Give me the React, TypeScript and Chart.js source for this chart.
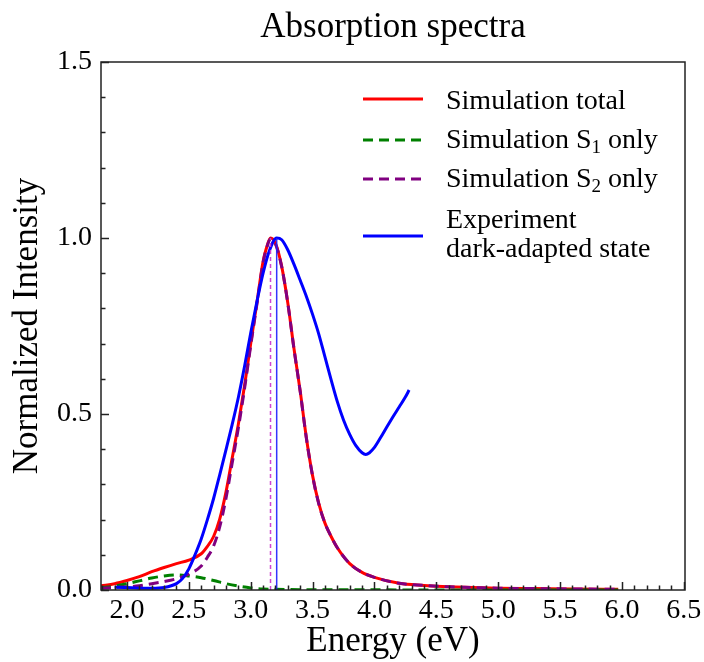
import React, { useEffect, useRef } from 'react';
import { Chart, registerables } from 'chart.js';
Chart.register(...registerables);

// ---- data ----
const totalX = [1.79, 1.9, 2.0, 2.1, 2.2, 2.3, 2.4, 2.5, 2.6, 2.65, 2.7, 2.75, 2.8, 2.85, 2.9, 2.95, 3.0, 3.05, 3.1, 3.13, 3.16, 3.2, 3.25, 3.3, 3.35, 3.4, 3.45, 3.5, 3.55, 3.6, 3.65, 3.7, 3.8, 3.9, 4.0, 4.2, 4.4, 4.6, 4.8, 5.0, 5.3, 5.6, 5.97];
const totalY = [0.012, 0.018, 0.027, 0.038, 0.052, 0.064, 0.075, 0.085, 0.103, 0.124, 0.152, 0.202, 0.278, 0.374, 0.471, 0.58, 0.70, 0.816, 0.933, 0.975, 1.0, 0.985, 0.92, 0.815, 0.685, 0.565, 0.432, 0.325, 0.246, 0.19, 0.152, 0.12, 0.075, 0.05, 0.036, 0.019, 0.013, 0.009, 0.007, 0.005, 0.004, 0.003, 0.002];

const s1X = [1.79, 1.9, 2.0, 2.1, 2.2, 2.3, 2.4, 2.5, 2.6, 2.7, 2.8, 2.9, 3.0, 3.1, 3.2, 3.4, 3.6, 4.0, 4.5, 5.0, 5.5, 5.97];
const s1Y = [0.006, 0.011, 0.018, 0.026, 0.034, 0.04, 0.043, 0.04, 0.035, 0.027, 0.018, 0.011, 0.006, 0.003, 0.002, 0.001, 0.0006, 0.0004, 0.0003, 0.0002, 0.0001, 0.0001];

const s2X = [1.79, 1.9, 2.0, 2.1, 2.2, 2.3, 2.4, 2.5, 2.6, 2.65, 2.7, 2.75, 2.8, 2.85, 2.9, 2.95, 3.0, 3.05, 3.1, 3.13, 3.16, 3.2, 3.25, 3.3, 3.35, 3.4, 3.45, 3.5, 3.55, 3.6, 3.65, 3.7, 3.8, 3.9, 4.0, 4.2, 4.4, 4.6, 4.8, 5.0, 5.3, 5.6, 5.97];
const s2Y = [0.005, 0.007, 0.009, 0.012, 0.018, 0.024, 0.032, 0.045, 0.068, 0.093, 0.125, 0.18, 0.26, 0.36, 0.46, 0.572, 0.694, 0.812, 0.93, 0.973, 0.998, 0.983, 0.919, 0.814, 0.684, 0.564, 0.431, 0.324, 0.245, 0.19, 0.152, 0.12, 0.075, 0.05, 0.036, 0.019, 0.013, 0.009, 0.007, 0.005, 0.004, 0.003, 0.002];

const expX = [1.9, 2.0, 2.1, 2.2, 2.3, 2.4, 2.45, 2.5, 2.55, 2.6, 2.65, 2.7, 2.75, 2.8, 2.85, 2.9, 2.95, 3.0, 3.05, 3.1, 3.15, 3.21, 3.25, 3.3, 3.35, 3.4, 3.45, 3.5, 3.55, 3.6, 3.65, 3.7, 3.75, 3.8, 3.85, 3.9, 3.93, 3.96, 4.0, 4.05, 4.1, 4.15, 4.2, 4.25, 4.28];
const expY = [0.008, 0.007, 0.005, 0.005, 0.007, 0.018, 0.033, 0.06, 0.1, 0.145, 0.2, 0.26, 0.328, 0.398, 0.47, 0.547, 0.635, 0.73, 0.819, 0.9, 0.963, 1.0, 0.995, 0.966, 0.925, 0.88, 0.834, 0.783, 0.727, 0.662, 0.597, 0.535, 0.483, 0.442, 0.41, 0.39, 0.385, 0.39, 0.405, 0.433, 0.463, 0.492, 0.52, 0.548, 0.568];

const peakSimX = [3.16, 3.16];
const peakSimY = [0, 1.0];
const peakExpX = [3.21, 3.21];
const peakExpY = [0, 1.0];

const xTickValues = [2.0, 2.5, 3.0, 3.5, 4.0, 4.5, 5.0, 5.5, 6.0, 6.5];
const yTickValues = [0, 0.5, 1.0, 1.5];
const xMinorValues = [1.8, 1.9, 2.1, 2.2, 2.3, 2.4, 2.6, 2.7, 2.8, 2.9, 3.1, 3.2, 3.3, 3.4, 3.6, 3.7, 3.8, 3.9, 4.1, 4.2, 4.3, 4.4, 4.6, 4.7, 4.8, 4.9, 5.1, 5.2, 5.3, 5.4, 5.6, 5.7, 5.8, 5.9, 6.1, 6.2, 6.3, 6.4];
const yMinorValues = [0.1, 0.2, 0.3, 0.4, 0.6, 0.7, 0.8, 0.9, 1.1, 1.2, 1.3, 1.4];

const titleText = 'Absorption spectra';
const xTitle = 'Energy (eV)';
const yTitle = 'Normalized Intensity';

const legendItems = [
  { color: '#ff0000', dash: [] as number[], lines: [[{ t: 'Simulation total' }]] },
  { color: '#008000', dash: [10, 6], lines: [[{ t: 'Simulation S' }, { t: '1', sub: true }, { t: ' only' }]] },
  { color: '#800080', dash: [10, 6], lines: [[{ t: 'Simulation S' }, { t: '2', sub: true }, { t: ' only' }]] },
  { color: '#0000ff', dash: [] as number[], lines: [[{ t: 'Experiment' }], [{ t: 'dark-adapted state' }]] },
];

const zip = (xs: number[], ys: number[]) => xs.map((x, i) => ({ x, y: ys[i] }));

const FONT = '"Liberation Serif", "Times New Roman", serif';

const decorPlugin = {
  id: 'decor',
  afterDatasetsDraw(chart: any) {
    const { ctx, chartArea: a, scales } = chart;
    const xs = scales.x, ys = scales.y;
    ctx.save();
    ctx.strokeStyle = '#222';
    ctx.lineWidth = 1.5;
    ctx.setLineDash([]);
    ctx.beginPath();
    xTickValues.forEach((v) => { const p = Math.round(xs.getPixelForValue(v)) + 0.5; ctx.moveTo(p, a.bottom); ctx.lineTo(p, a.bottom - 8); });
    xMinorValues.forEach((v) => { const p = Math.round(xs.getPixelForValue(v)) + 0.5; ctx.moveTo(p, a.bottom); ctx.lineTo(p, a.bottom - 4.5); });
    yTickValues.forEach((v) => { const p = Math.round(ys.getPixelForValue(v)) + 0.5; ctx.moveTo(a.left, p); ctx.lineTo(a.left + 8, p); });
    yMinorValues.forEach((v) => { const p = Math.round(ys.getPixelForValue(v)) + 0.5; ctx.moveTo(a.left, p); ctx.lineTo(a.left + 4.5, p); });
    ctx.stroke();
    ctx.strokeRect(a.left, a.top, a.right - a.left, a.bottom - a.top);

    // legend
    const lx0 = a.right - 322, lx1 = a.right - 262, tx = a.right - 239;
    const lineYs = [37, 78, 117, 174];
    const baseYs = [[47], [86], [125], [166, 195]];
    legendItems.forEach((it, i) => {
      ctx.save();
      ctx.strokeStyle = it.color;
      ctx.lineWidth = 3;
      ctx.setLineDash(it.dash);
      ctx.beginPath();
      ctx.moveTo(lx0, a.top + lineYs[i]);
      ctx.lineTo(lx1, a.top + lineYs[i]);
      ctx.stroke();
      ctx.restore();
      it.lines.forEach((parts: any[], j: number) => {
        let x = tx;
        const by = a.top + baseYs[i][j];
        ctx.fillStyle = '#000';
        ctx.textBaseline = 'alphabetic';
        ctx.textAlign = 'left';
        parts.forEach((p) => {
          ctx.font = p.sub ? `19px ${FONT}` : `28px ${FONT}`;
          ctx.fillText(p.t, x, p.sub ? by + 4.5 : by);
          x += ctx.measureText(p.t).width;
        });
      });
    });
    ctx.restore();
  },
};

export default function App() {
  const ref = useRef<HTMLCanvasElement>(null);
  useEffect(() => {
    if (!ref.current) return;
    const chart = new Chart(ref.current, {
      type: 'line',
      data: {
        datasets: [
          { label: 'peakExp', data: zip(peakExpX, peakExpY), borderColor: 'rgba(30,30,255,0.9)', borderWidth: 1.5, pointRadius: 0, order: 0 },
          { label: 'peakSim', data: zip(peakSimX, peakSimY), borderColor: 'rgba(205,60,205,0.95)', borderWidth: 1.5, borderDash: [4, 3], pointRadius: 0, order: 1 },
          { label: 'Experiment dark-adapted state', data: zip(expX, expY), borderColor: '#0000ff', borderWidth: 3, pointRadius: 0, cubicInterpolationMode: 'monotone', order: 2 },
          { label: 'Simulation S2 only', data: zip(s2X, s2Y), borderColor: '#800080', borderWidth: 3, borderDash: [10, 6], pointRadius: 0, cubicInterpolationMode: 'monotone', order: 3 },
          { label: 'Simulation S1 only', data: zip(s1X, s1Y), borderColor: '#008000', borderWidth: 3, borderDash: [10, 6], pointRadius: 0, cubicInterpolationMode: 'monotone', order: 4 },
          { label: 'Simulation total', data: zip(totalX, totalY), borderColor: '#ff0000', borderWidth: 3, pointRadius: 0, cubicInterpolationMode: 'monotone', order: 5 },
        ],
      },
      options: {
        animation: false,
        responsive: true,
        maintainAspectRatio: false,
        layout: { padding: { left: 0, right: 19, top: 0, bottom: 0 } },
        plugins: {
          legend: { display: false },
          tooltip: { enabled: false },
          title: {
            display: true,
            text: titleText,
            fullSize: false,
            color: '#000',
            font: { family: FONT, size: 35, weight: 'normal', lineHeight: 1.0 },
            padding: { top: 10.5, bottom: 16.5 },
          },
        },
        scales: {
          x: {
            type: 'linear',
            min: 1.79,
            max: 6.51,
            afterFit: (s: any) => { s.height = 72; s.paddingLeft = 0; s.paddingRight = 0; },
            afterBuildTicks: (s: any) => { s.ticks = xTickValues.map((v) => ({ value: v })); },
            grid: { display: false, drawTicks: false },
            border: { display: false },
            ticks: { color: '#000', padding: 4, font: { family: FONT, size: 28 }, callback: (v: any) => Number(v).toFixed(1), maxRotation: 0, autoSkip: false },
            title: { display: true, text: xTitle, color: '#000', font: { family: FONT, size: 35, lineHeight: 1.0 }, padding: { top: 0, bottom: 2.3 } },
          },
          y: {
            type: 'linear',
            min: 0,
            max: 1.5,
            afterFit: (s: any) => { s.width = 101; s.paddingTop = 0; s.paddingBottom = 0; },
            afterBuildTicks: (s: any) => { s.ticks = yTickValues.map((v) => ({ value: v })); },
            grid: { display: false, drawTicks: false },
            border: { display: false },
            ticks: { color: '#000', padding: 9, font: { family: FONT, size: 28 }, callback: (v: any) => Number(v).toFixed(1), autoSkip: false },
            title: { display: true, text: yTitle, color: '#000', font: { family: FONT, size: 35, lineHeight: 1.0 }, padding: { top: 10.7, bottom: 0 } },
          },
        },
      },
      plugins: [decorPlugin],
    } as any);
    return () => chart.destroy();
  }, []);
  return (
    <div style={{ position: 'fixed', left: 0, top: 0, width: 704, height: 662 }}>
      <canvas ref={ref} />
    </div>
  );
}
